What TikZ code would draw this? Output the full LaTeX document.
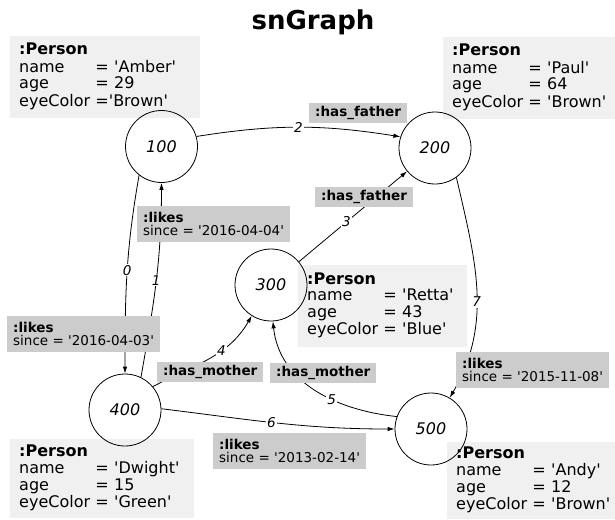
\documentclass[tikz,border=0pt]{standalone}
\usepackage{fontspec}
\setmainfont{DejaVu Sans}[Ligatures=TeXOff]
\usetikzlibrary{arrows.meta}
\definecolor{personbg}{HTML}{F0F0F0}
\definecolor{edgebg}{HTML}{CCCCCC}
\newcommand{\personinfo}[3]{\begin{tabular}{@{}l@{ }l@{}}\multicolumn{2}{@{}l}{\bfseries :Person}\\ name & #1\\ age & #2\\ eyeColor & #3\end{tabular}}

\begin{document}
\begin{tikzpicture}[x=1pt,y=-1pt,>={Latex[length=7pt,width=4.5pt]},
    vert/.style={circle,draw,line width=0.8pt,minimum size=72pt,inner sep=0pt,font=\fontsize{16}{16}\selectfont\itshape},
    person/.style={fill=personbg,anchor=north west,align=left,inner xsep=9pt,inner ysep=0pt,minimum height=82pt,font=\fontsize{16}{16.7}\selectfont},
    rel/.style={fill=edgebg,anchor=north west,align=left,inner xsep=6pt,inner ysep=3pt,minimum height=19pt,font=\fontsize{13.5}{13.5}\selectfont},
    likes/.style={rel,minimum height=36pt},
    num/.style={fill=white,inner sep=1pt,font=\fontsize{13.5}{13.5}\selectfont\itshape},
    edge/.style={->,line width=0.8pt}]
\useasboundingbox (0,0) rectangle (615,519);

\node[anchor=base,font=\fontsize{26}{26}\selectfont\bfseries] (title) at (313,30) {snGraph};

% person data
\node[person,text width=172pt] (p100) at (10,36) {\personinfo{= 'Amber'}{= 29}{='Brown'}};
\node[person,text width=154pt] (p200) at (443,37) {\personinfo{= 'Paul'}{= 64}{= 'Brown'}};
\node[person,text width=151pt] (p300) at (298,265) {\personinfo{= 'Retta'}{= 43}{= 'Blue'}};
\node[person,text width=166pt,minimum height=79pt] (p400) at (10,439) {\personinfo{= 'Dwight'}{= 15}{= 'Green'}};
\node[person,text width=150pt,minimum height=77pt] (p500) at (447,442) {\personinfo{= 'Andy'}{= 12}{= 'Brown'}};

% vertices
\node[vert] (n100) at (161.5,146.5) {100};
\node[vert] (n200) at (435,148) {200};
\node[vert] (n300) at (271,285) {300};
\node[vert] (n400) at (125,410) {400};
\node[vert] (n500) at (431,429) {500};

% edges
\draw[edge] (n100.-128) to[out=-100,in=90] node[num,pos=0.48]{0} (n400.north);
\draw[edge] (n400.64) to[out=80,in=-90] node[num]{1} (n100.south);
\draw[edge] (n100.16) to[out=9,in=171] node[num]{2} (n200.162);
\draw[edge] (n300) -- node[num,pos=0.44]{3} (n200);
\draw[edge] (n400.40) to[out=28,in=-120] node[num,pos=0.63]{4} (n300.-122);
\draw[edge] (n500.160) to[out=174,in=-84] node[num,pos=0.38]{5} (n300.-87);
\draw[edge] (n400.2) to[out=-7,in=180] node[num,pos=0.47]{6} (n500.west);
\draw[edge] (n200.-54) to[out=-77,in=60] node[num,pos=0.55]{7} (n500.59);

% edge data
\node[rel] (r2) at (309,103) {\bfseries :has\_father};
\node[rel] (r3) at (315,187) {\bfseries :has\_father};
\node[likes] (r1) at (137,206) {\textbf{:likes}\\since = '2016-04-04'};
\node[likes] (r0) at (7,316) {\textbf{:likes}\\since = '2016-04-03'};
\node[rel] (r4) at (157,362) {\bfseries :has\_mother};
\node[rel] (r5) at (270,363) {\bfseries :has\_mother};
\node[likes] (r7) at (456,352) {\textbf{:likes}\\since = '2015-11-08'};
\node[likes] (r6) at (213,433) {\textbf{:likes}\\since = '2013-02-14'};
\end{tikzpicture}
\end{document}
